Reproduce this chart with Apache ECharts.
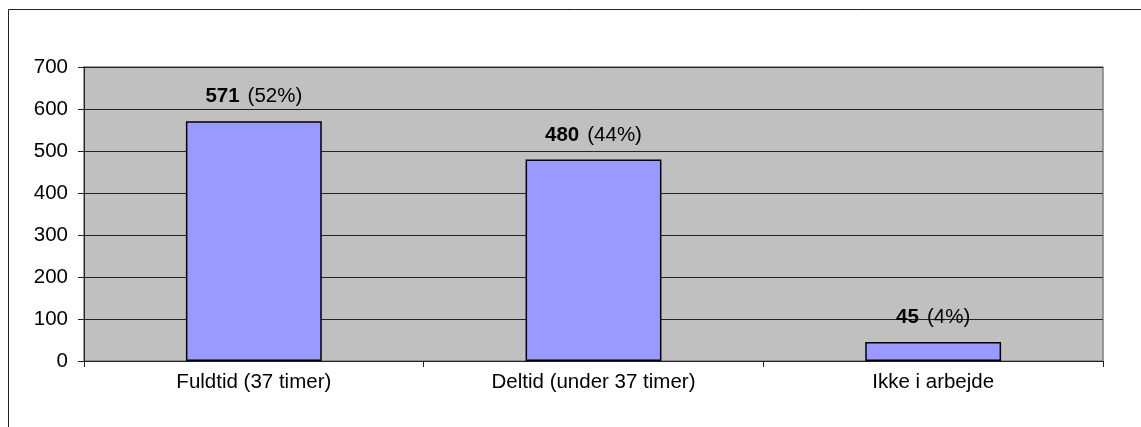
<!DOCTYPE html>
<html>
<head>
<meta charset="utf-8">
<script src="https://cdn.jsdelivr.net/npm/echarts@6/dist/echarts.min.js"></script>
<style>
html,body{margin:0;padding:0;background:#fff;}
#chart{width:1141px;height:427px;}
</style>
</head>
<body>
<div id="chart"></div>
<script>
const categories = ['Fuldtid (37 timer)', 'Deltid (under 37 timer)', 'Ikke i arbejde'];
const counts = [571, 480, 45];
const percents = ['52%', '44%', '4%'];
const yMin = 0, yMax = 700, yStep = 100;

const FONT = '"Liberation Sans", Arial, sans-serif';
const FS = 20.5;

const chart = echarts.init(document.getElementById('chart'), null, {renderer: 'canvas'});
chart.setOption({
  animation: false,
  backgroundColor: '#ffffff',
  textStyle: {fontFamily: FONT},
  graphic: [{
    type: 'rect',
    shape: {x: 8.5, y: 9.5, width: 1300, height: 600},
    style: {fill: 'none', stroke: '#222', lineWidth: 1},
    silent: true, z: 100
  }],
  grid: {
    left: 84, right: 38, top: 67, bottom: 66,
    show: true, backgroundColor: '#C0C0C0',
    borderColor: '#808080', borderWidth: 1.5
  },
  xAxis: {
    type: 'category',
    data: categories,
    axisLine: {show: true, lineStyle: {color: '#222', width: 1}},
    axisTick: {show: true, alignWithLabel: false, length: 6, lineStyle: {color: '#222'}},
    axisLabel: {color: '#000', fontSize: FS, fontFamily: FONT, margin: 11}
  },
  yAxis: {
    type: 'value',
    min: yMin, max: yMax, interval: yStep,
    axisLine: {show: true, lineStyle: {color: '#222', width: 1}},
    axisTick: {show: true, length: 6, lineStyle: {color: '#222'}},
    axisLabel: {color: '#000', fontSize: FS, fontFamily: FONT, margin: 16},
    splitLine: {show: true, lineStyle: {color: '#222', width: 1}}
  },
  series: [{
    type: 'bar',
    data: counts.map((v, i) => ({value: v, pct: percents[i]})),
    barCategoryGap: '60%',
    itemStyle: {color: '#9999FF', borderColor: '#000', borderWidth: 1.5},
    label: {
      show: true,
      position: 'top',
      distance: 14,
      formatter: (p) => '{b|' + p.value + '}{n|(' + percents[p.dataIndex] + ')}',
      rich: {
        b: {fontWeight: 'bold', fontSize: FS, color: '#000', fontFamily: FONT},
        n: {fontSize: FS, color: '#000', fontFamily: FONT, padding: [0, 0, 0, 8]}
      }
    }
  }]
});
</script>
</body>
</html>
